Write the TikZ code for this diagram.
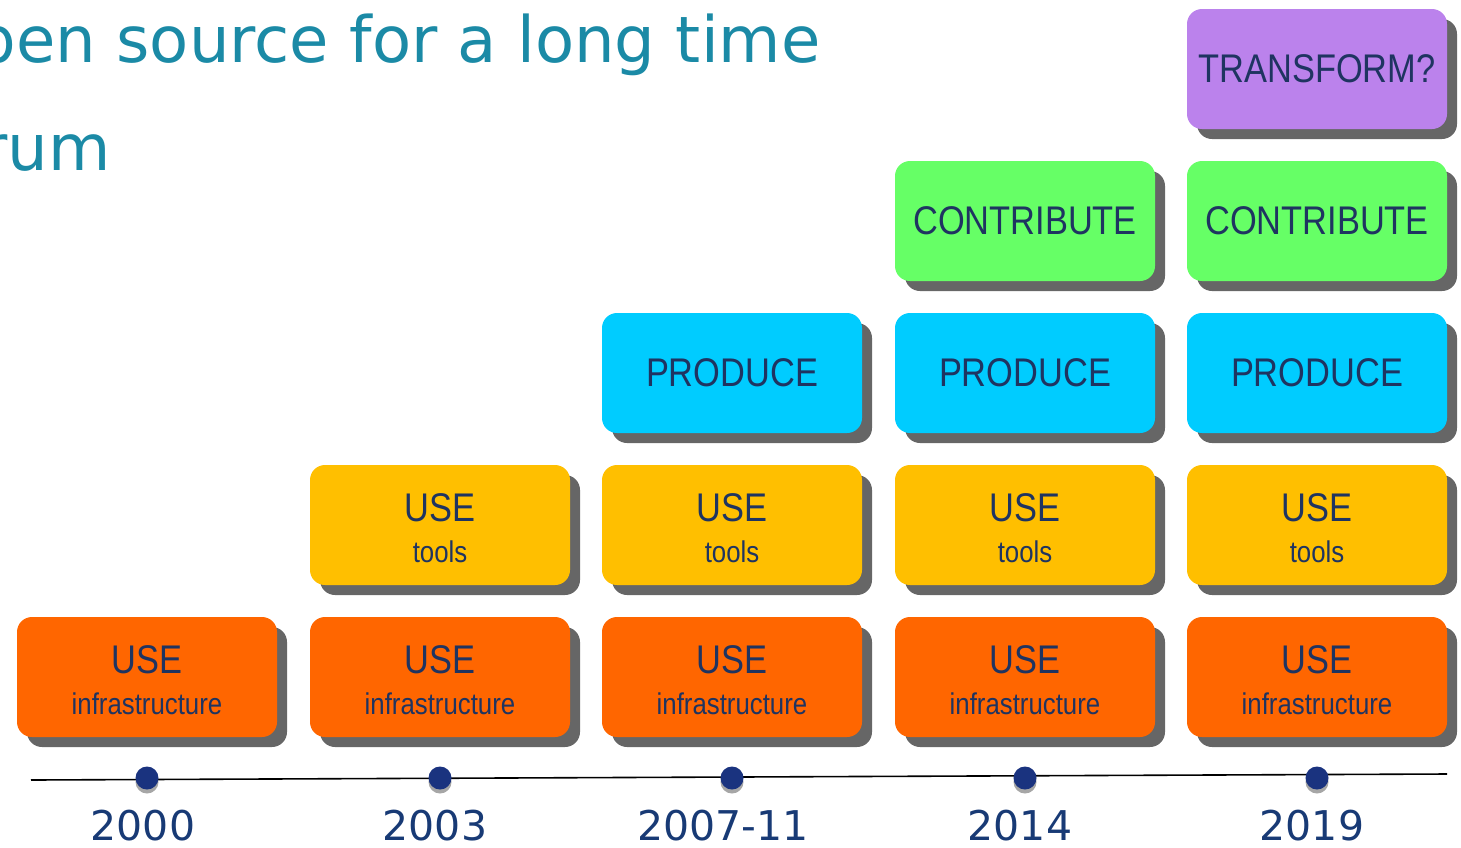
\documentclass[tikz,border=0pt]{standalone}
\usepackage{fontspec}
\setmainfont{DejaVu Sans}
\newfontfamily\boxfont[FakeStretch=0.86]{Liberation Sans}
\usetikzlibrary{shadows}

\definecolor{titleblue}{HTML}{1B8AA6}
\definecolor{boxtext}{HTML}{1F3461}
\definecolor{yearblue}{HTML}{183A75}
\definecolor{dotblue}{HTML}{1A337F}
\definecolor{shadowgrey}{HTML}{666666}
\definecolor{infracol}{HTML}{FF6600}
\definecolor{toolscol}{HTML}{FFBF00}
\definecolor{prodcol}{HTML}{00CCFF}
\definecolor{contribcol}{HTML}{66FF66}
\definecolor{transcol}{HTML}{BB82EC}

\newcommand\twoline[2]{\rule{0pt}{35pt}#1\\[1pt]{\fontsize{30}{30}\selectfont #2}}

\tikzset{
  blk/.style={rounded corners=15pt, minimum width=260pt, minimum height=120pt,
    inner sep=0pt, text=boxtext, align=center,
    font=\boxfont\fontsize{40}{40}\selectfont,
    drop shadow={shadow xshift=10pt, shadow yshift=-10pt, fill=shadowgrey, opacity=1}},
  infra/.style={blk, fill=infracol},
  tools/.style={blk, fill=toolscol},
  prod/.style={blk, fill=prodcol},
  contrib/.style={blk, fill=contribcol},
  trans/.style={blk, fill=transcol},
  dot/.style={circle, fill=dotblue, minimum size=23pt, inner sep=0pt,
    drop shadow={shadow xshift=0pt, shadow yshift=-4pt, fill=black!35, opacity=1}},
  year/.style={text=yearblue, font=\fontsize{41}{41}\selectfont, anchor=base},
  title/.style={text=titleblue, font=\fontsize{64}{64}\selectfont, anchor=base east}
}

\begin{document}
\begin{tikzpicture}[x=1pt, y=-1pt]
  \useasboundingbox (0,0) rectangle (1461,847);

  % heading, cut off at the left edge
  \node[title] (head1) at (824,62) {pen source for a long time};
  \node[title] (head2) at (114,170) {rum};

  % stacked blocks
  \foreach \x [count=\i] in {147,440,732,1025,1317}
    \node[infra] (infra\i) at (\x,677) {\twoline{USE}{infrastructure}};
  \foreach \x [count=\i from 2] in {440,732,1025,1317}
    \node[tools] (tools\i) at (\x,525) {\twoline{USE}{tools}};
  \foreach \x [count=\i from 3] in {732,1025,1317}
    \node[prod] (prod\i) at (\x,373) {PRODUCE};
  \foreach \x [count=\i from 4] in {1025,1317}
    \node[contrib] (contrib\i) at (\x,221) {CONTRIBUTE};
  \node[trans] (trans5) at (1317,69) {TRANSFORM?};

  % timeline
  \coordinate (tl) at (31,780);
  \coordinate (tr) at (1447,774);
  \draw[line width=1.6pt] (tl) -- (tr);
  \foreach \x/\yr/\dx [count=\i] in {147/2000/4, 440/2003/5, 732/2007-11/9, 1025/2014/5, 1317/2019/5} {
    \node[dot] (d\i) at (\x,778) {};
    \node[year] (yr\i) at (\x-\dx,840) {\yr};
  }
\end{tikzpicture}
\end{document}
